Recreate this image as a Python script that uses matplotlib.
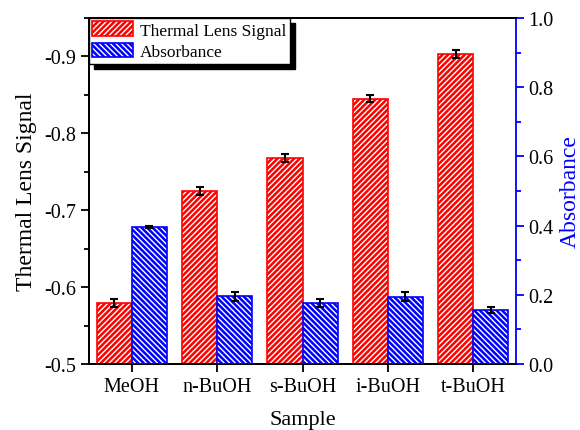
import matplotlib
matplotlib.use("Agg")
import matplotlib.pyplot as plt
import numpy as np
from matplotlib.patches import Patch

categories = ["MeOH", "n-BuOH", "s-BuOH", "i-BuOH", "t-BuOH"]
tls_values = [-0.579, -0.725, -0.768, -0.845, -0.903]
tls_errors = [0.0055, 0.0048, 0.005, 0.0048, 0.0048]
abs_values = [0.396, 0.196, 0.176, 0.195, 0.155]
abs_errors = [0.003, 0.013, 0.011, 0.012, 0.009]

plt.rcParams['font.family'] = ['Liberation Serif', 'DejaVu Serif']
plt.rcParams['hatch.linewidth'] = 1.0
plt.rcParams['hatch.color'] = 'white'

fig = plt.figure(figsize=(5.8, 4.31), dpi=100)
ax = fig.add_axes([89/580, 1-365/431, (516-89)/580, (365-19)/431])
ax2 = ax.twinx()

x = np.arange(len(categories))
w = 0.41
base = -0.5
RH = '//////'
BH = '\\\\\\\\\\\\'

tls_heights = [v - base for v in tls_values]
ax.bar(x - w/2, tls_heights, w, bottom=base, color='red', edgecolor='white',
       hatch=RH, linewidth=0, zorder=2)
ax.bar(x - w/2, tls_heights, w, bottom=base, facecolor='none', edgecolor='red',
       linewidth=1.2, zorder=3)
ax.errorbar(x - w/2, tls_values, yerr=tls_errors, fmt='none', ecolor='black',
            elinewidth=1.5, capsize=3, capthick=1.5, zorder=4)

ax2.bar(x + w/2, abs_values, w, color='blue', edgecolor='white',
        hatch=BH, linewidth=0, zorder=2)
ax2.bar(x + w/2, abs_values, w, facecolor='none', edgecolor='blue',
        linewidth=1.2, zorder=3)
ax2.errorbar(x + w/2, abs_values, yerr=abs_errors, fmt='none', ecolor='black',
             elinewidth=1.5, capsize=3, capthick=1.5, zorder=4)

ax.set_xlim(-0.5, 4.5)
ax.set_ylim(-0.5, -0.95)
ax2.set_ylim(0, 1.0)

ax.set_yticks([-0.5, -0.6, -0.7, -0.8, -0.9])
ax.set_yticklabels(["-0.5", "-0.6", "-0.7", "-0.8", "-0.9"])
ax.set_yticks([-0.55, -0.65, -0.75, -0.85, -0.95], minor=True)
ax2.set_yticks([0.0, 0.2, 0.4, 0.6, 0.8, 1.0])
ax2.set_yticklabels(["0.0", "0.2", "0.4", "0.6", "0.8", "1.0"])
ax2.set_yticks([0.1, 0.3, 0.5, 0.7, 0.9], minor=True)
ax.set_xticks(x)
ax.set_xticklabels(categories)

ax.tick_params(axis='both', which='major', labelsize=14.5, direction='out',
               length=6, width=1.3)
ax.tick_params(axis='y', which='minor', direction='out', length=3.5, width=1.3)
ax2.tick_params(axis='y', which='major', labelsize=14.5, direction='out',
                length=6, width=1.3, color='blue', labelcolor='black', pad=3)
ax2.tick_params(axis='y', which='minor', direction='out', length=3.5,
                width=1.3, color='blue')

for sp in ['left', 'bottom', 'top']:
    ax.spines[sp].set_linewidth(1.3)
    ax2.spines[sp].set_linewidth(1.3)
ax2.spines['right'].set_color('blue')
ax2.spines['right'].set_linewidth(1.3)
ax.spines['right'].set_visible(False)

ax.set_ylabel("Thermal Lens Signal", fontsize=17, labelpad=5)
ax2.set_ylabel("Absorbance", fontsize=17, color='blue', labelpad=4)
ax.set_xlabel("Sample", fontsize=16, labelpad=10)

h1 = (Patch(facecolor='red', edgecolor='white', hatch=RH, linewidth=0),
      Patch(facecolor='none', edgecolor='red', linewidth=1.2))
h2 = (Patch(facecolor='blue', edgecolor='white', hatch=BH, linewidth=0),
      Patch(facecolor='none', edgecolor='blue', linewidth=1.2))
leg = ax2.legend([h1, h2], ["Thermal Lens Signal", "Absorbance"], loc='upper left',
                 bbox_to_anchor=(0, 1), borderaxespad=0, fontsize=12.5,
                 frameon=True, fancybox=False,
                 shadow={'color': 'black', 'alpha': 1, 'ox': 3.5, 'oy': -3.5},
                 edgecolor='black', handlelength=2.35, handleheight=0.9,
                 handletextpad=0.4, borderpad=0.2, labelspacing=0.25)
leg.get_frame().set_linewidth(1.0)

fig.savefig("out.png", dpi=100)
